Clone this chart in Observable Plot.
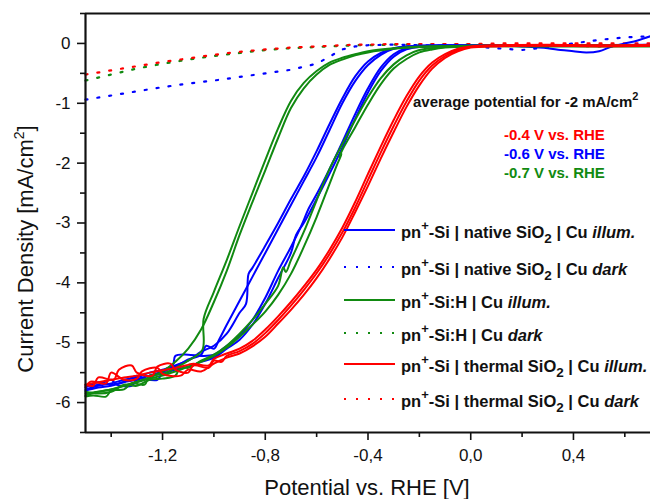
<!DOCTYPE html>
<html><head><meta charset="utf-8">
<script src="https://cdn.jsdelivr.net/npm/d3@7"></script>
<script src="https://cdn.jsdelivr.net/npm/@observablehq/plot@0.6"></script>
<style>
html,body{margin:0;padding:0;background:#fff;}
#chart{width:650px;height:499px;overflow:hidden;}
</style></head><body><div id="chart"></div>
<script>
// ---- tick values ----
const xTicks = [-1.2, -0.8, -0.4, 0.0, 0.4];
const xMinorTicks = [-1.4, -1.0, -0.6, -0.2, 0.2, 0.6];
const yTicks = [0, -1, -2, -3, -4, -5, -6];
const yMinorTicks = [0.5, -0.5, -1.5, -2.5, -3.5, -4.5, -5.5, -6.5];

// ---- dark (dotted) curves: potential [V] and current density [mA/cm2] ----
const vDark     = [-1.5,-1.4,-1.3,-1.2,-1.1,-1.0,-0.9,-0.8,-0.7,-0.6,-0.55,-0.5,-0.45,-0.4,-0.3,-0.2,-0.1,0.0,0.1,0.2,0.3,0.4,0.5,0.6,0.7];
const redDark   = [-0.52,-0.45,-0.38,-0.31,-0.25,-0.19,-0.14,-0.10,-0.07,-0.05,-0.04,-0.03,-0.02,-0.02,-0.01,-0.01,-0.01,-0.01,0,0,0,0,0,0,0];
const greenDark = [-0.62,-0.52,-0.42,-0.34,-0.27,-0.21,-0.16,-0.11,-0.08,-0.06,-0.05,-0.04,-0.03,-0.03,-0.02,-0.02,-0.02,-0.02,-0.03,-0.04,-0.04,-0.04,-0.05,-0.04,-0.03];
const blueDark  = [-0.94,-0.87,-0.80,-0.73,-0.67,-0.62,-0.56,-0.50,-0.44,-0.34,-0.22,-0.10,-0.05,-0.03,-0.02,-0.03,-0.04,-0.05,-0.08,-0.11,-0.06,0.00,0.06,0.10,0.12];

// ---- illuminated curves: [potential V, current density mA/cm2] ----
const blueIllumA1 = [[0.7,0.12],[0.65,0.05],[0.6,0.0],[0.55,-0.05],[0.5,-0.13],[0.45,-0.15],[0.4,-0.13],[0.35,-0.11],[0.3,-0.08],[0.2,-0.05],[0.1,-0.03],[0.0,-0.03],[-0.1,-0.03],[-0.2,-0.04],[-0.25,-0.05],[-0.3,-0.08],[-0.35,-0.16],[-0.4,-0.30],[-0.45,-0.55],[-0.5,-0.92],[-0.55,-1.35],[-0.6,-1.80],[-0.65,-2.22],[-0.7,-2.60],[-0.75,-3.00],[-0.8,-3.38],[-0.85,-3.75],[-0.865,-3.85],[-0.875,-4.35],[-0.9,-4.50],[-0.95,-4.85],[-1.0,-5.05],[-1.05,-5.15],[-1.1,-5.30],[-1.15,-5.38],[-1.2,-5.50],[-1.22,-5.62],[-1.27,-5.60],[-1.3,-5.55],[-1.35,-5.65],[-1.4,-5.70],[-1.45,-5.66],[-1.5,-5.75]];
const blueIllumA2 = [[0.7,-0.02],[0.4,-0.03],[0.2,-0.03],[0.0,-0.03],[-0.2,-0.04],[-0.3,-0.09],[-0.35,-0.19],[-0.4,-0.36],[-0.45,-0.63],[-0.5,-1.00],[-0.55,-1.45],[-0.6,-1.90],[-0.65,-2.30],[-0.7,-2.70],[-0.75,-3.10],[-0.8,-3.50],[-0.85,-3.90],[-0.9,-4.30],[-0.95,-4.70],[-0.98,-4.95],[-1.0,-5.10],[-1.03,-5.05],[-1.05,-5.20],[-1.1,-5.28],[-1.15,-5.40],[-1.2,-5.48],[-1.25,-5.55],[-1.3,-5.62],[-1.32,-5.72],[-1.38,-5.70],[-1.4,-5.62],[-1.45,-5.70],[-1.5,-5.72]];
const blueIllumB1 = [[0.7,-0.03],[0.4,-0.03],[0.2,-0.03],[0.0,-0.04],[-0.1,-0.04],[-0.2,-0.05],[-0.25,-0.08],[-0.3,-0.18],[-0.35,-0.40],[-0.4,-0.75],[-0.45,-1.18],[-0.5,-1.65],[-0.55,-2.10],[-0.6,-2.52],[-0.63,-2.75],[-0.66,-3.05],[-0.7,-3.40],[-0.75,-3.80],[-0.8,-4.25],[-0.85,-4.62],[-0.9,-4.88],[-0.95,-5.05],[-1.0,-5.20],[-1.05,-5.22],[-1.1,-5.20],[-1.15,-5.22],[-1.16,-5.38],[-1.2,-5.45],[-1.25,-5.50],[-1.3,-5.58],[-1.35,-5.62],[-1.4,-5.68],[-1.45,-5.72],[-1.5,-5.78]];
const blueIllumB2 = [[0.7,-0.04],[0.4,-0.04],[0.2,-0.04],[0.0,-0.04],[-0.2,-0.06],[-0.25,-0.10],[-0.3,-0.22],[-0.35,-0.46],[-0.4,-0.82],[-0.45,-1.26],[-0.5,-1.74],[-0.55,-2.18],[-0.6,-2.60],[-0.65,-3.00],[-0.68,-3.20],[-0.7,-3.50],[-0.75,-3.92],[-0.8,-4.35],[-0.85,-4.70],[-0.9,-4.95],[-0.95,-5.10],[-1.0,-5.25],[-1.05,-5.32],[-1.1,-5.40],[-1.15,-5.45],[-1.2,-5.52],[-1.25,-5.55],[-1.3,-5.62],[-1.35,-5.66],[-1.4,-5.72],[-1.45,-5.75],[-1.5,-5.80]];

const greenIllumA1 = [[0.7,-0.04],[0.4,-0.04],[0.2,-0.04],[0.0,-0.04],[-0.1,-0.05],[-0.2,-0.06],[-0.3,-0.09],[-0.4,-0.15],[-0.45,-0.20],[-0.5,-0.27],[-0.55,-0.36],[-0.6,-0.52],[-0.65,-0.75],[-0.7,-1.08],[-0.75,-1.58],[-0.8,-2.12],[-0.85,-2.65],[-0.9,-3.20],[-0.95,-3.80],[-1.0,-4.32],[-1.05,-4.78],[-1.1,-5.10],[-1.15,-5.32],[-1.2,-5.48],[-1.25,-5.58],[-1.3,-5.65],[-1.35,-5.72],[-1.4,-5.78],[-1.45,-5.82],[-1.5,-5.85]];
const greenIllumA2 = [[0.7,-0.03],[0.4,-0.03],[0.2,-0.03],[0.0,-0.04],[-0.2,-0.05],[-0.3,-0.08],[-0.4,-0.13],[-0.45,-0.18],[-0.5,-0.24],[-0.55,-0.32],[-0.6,-0.46],[-0.65,-0.66],[-0.7,-0.96],[-0.75,-1.42],[-0.8,-1.95],[-0.85,-2.50],[-0.9,-3.05],[-0.95,-3.62],[-1.0,-4.15],[-1.04,-4.60],[-1.045,-5.12],[-1.1,-5.30],[-1.15,-5.42],[-1.2,-5.52],[-1.25,-5.55],[-1.27,-5.70],[-1.32,-5.68],[-1.35,-5.78],[-1.4,-5.80],[-1.42,-5.90],[-1.47,-5.88],[-1.5,-5.90]];
const greenIllumB1 = [[0.7,-0.05],[0.4,-0.05],[0.2,-0.05],[0.0,-0.05],[-0.1,-0.07],[-0.15,-0.10],[-0.2,-0.15],[-0.25,-0.26],[-0.3,-0.42],[-0.35,-0.68],[-0.4,-1.02],[-0.45,-1.40],[-0.5,-1.78],[-0.512,-1.90],[-0.503,-1.85],[-0.52,-2.02],[-0.55,-2.35],[-0.6,-2.90],[-0.65,-3.40],[-0.7,-3.85],[-0.75,-4.20],[-0.8,-4.48],[-0.85,-4.70],[-0.9,-4.90],[-0.95,-5.08],[-1.0,-5.22],[-1.05,-5.32],[-1.1,-5.40],[-1.15,-5.48],[-1.2,-5.55],[-1.25,-5.60],[-1.3,-5.66],[-1.35,-5.72],[-1.4,-5.78],[-1.45,-5.82],[-1.5,-5.88]];
const greenIllumB2 = [[0.7,-0.04],[0.4,-0.04],[0.2,-0.04],[0.0,-0.05],[-0.1,-0.06],[-0.2,-0.11],[-0.25,-0.20],[-0.3,-0.35],[-0.35,-0.58],[-0.4,-0.90],[-0.45,-1.28],[-0.5,-1.68],[-0.55,-2.10],[-0.6,-2.62],[-0.65,-3.15],[-0.7,-3.62],[-0.72,-3.82],[-0.73,-3.74],[-0.75,-4.05],[-0.8,-4.35],[-0.85,-4.62],[-0.9,-4.85],[-0.95,-5.05],[-1.0,-5.20],[-1.05,-5.30],[-1.1,-5.42],[-1.13,-5.40],[-1.15,-5.55],[-1.2,-5.60],[-1.25,-5.62],[-1.3,-5.72],[-1.35,-5.70],[-1.4,-5.82],[-1.45,-5.85],[-1.5,-5.82]];

const redIllum1 = [[0.7,-0.02],[0.5,-0.03],[0.3,-0.02],[0.1,-0.03],[0.0,-0.05],[-0.05,-0.09],[-0.1,-0.18],[-0.15,-0.32],[-0.2,-0.55],[-0.25,-0.88],[-0.3,-1.28],[-0.35,-1.72],[-0.4,-2.18],[-0.45,-2.65],[-0.5,-3.08],[-0.55,-3.45],[-0.6,-3.78],[-0.65,-4.06],[-0.7,-4.32],[-0.75,-4.56],[-0.8,-4.78],[-0.85,-4.97],[-0.9,-5.10],[-0.95,-5.18],[-1.0,-5.27],[-1.02,-5.38],[-1.08,-5.35],[-1.1,-5.37],[-1.15,-5.42],[-1.2,-5.46],[-1.25,-5.50],[-1.3,-5.55],[-1.35,-5.58],[-1.4,-5.62],[-1.45,-5.66],[-1.5,-5.70]];
const redIllum2 = [[0.7,-0.03],[0.5,-0.04],[0.3,-0.03],[0.1,-0.04],[0.0,-0.06],[-0.05,-0.11],[-0.1,-0.21],[-0.15,-0.37],[-0.2,-0.62],[-0.25,-0.97],[-0.3,-1.38],[-0.35,-1.82],[-0.4,-2.28],[-0.45,-2.74],[-0.5,-3.16],[-0.55,-3.52],[-0.6,-3.84],[-0.65,-4.12],[-0.7,-4.38],[-0.75,-4.62],[-0.8,-4.84],[-0.85,-5.02],[-0.9,-5.14],[-0.95,-5.22],[-0.97,-5.32],[-1.0,-5.30],[-1.02,-5.42],[-1.08,-5.38],[-1.1,-5.50],[-1.15,-5.45],[-1.17,-5.35],[-1.22,-5.40],[-1.24,-5.55],[-1.3,-5.50],[-1.32,-5.38],[-1.37,-5.45],[-1.39,-5.62],[-1.45,-5.58],[-1.47,-5.72],[-1.5,-5.70]];
const redIllum3 = [[0.7,-0.04],[0.5,-0.05],[0.3,-0.04],[0.1,-0.05],[0.0,-0.07],[-0.05,-0.13],[-0.1,-0.24],[-0.15,-0.42],[-0.2,-0.70],[-0.25,-1.06],[-0.3,-1.48],[-0.35,-1.92],[-0.4,-2.38],[-0.45,-2.82],[-0.5,-3.24],[-0.55,-3.60],[-0.6,-3.92],[-0.65,-4.20],[-0.7,-4.45],[-0.75,-4.68],[-0.8,-4.90],[-0.85,-5.06],[-0.9,-5.18],[-0.95,-5.25],[-1.0,-5.35],[-1.05,-5.48],[-1.1,-5.45],[-1.13,-5.55],[-1.2,-5.52],[-1.22,-5.42],[-1.28,-5.48],[-1.3,-5.60],[-1.35,-5.62],[-1.4,-5.50],[-1.42,-5.68],[-1.48,-5.65],[-1.5,-5.74]];

// ---- text content ----
const avgTitle = "average potential for -2 mA/cm";
const avgValues = ["-0.4 V vs. RHE", "-0.6 V vs. RHE", "-0.7 V vs. RHE"];
const legendLabels = [
  ["pn", "-Si | native SiO", "2", " | Cu ", "illum."],
  ["pn", "-Si | native SiO", "2", " | Cu ", "dark"],
  ["pn", "-Si:H | Cu ", "", "", "illum."],
  ["pn", "-Si:H | Cu ", "", "", "dark"],
  ["pn", "-Si | thermal SiO", "2", " | Cu ", "illum."],
  ["pn", "-Si | thermal SiO", "2", " | Cu ", "dark"]
];

const BLUE = "#0000ff", GREEN = "#118a11", RED = "#ff0000";
const FONT = "'Liberation Sans', Arial, Helvetica, sans-serif";
const toPts = (vs, js) => vs.map((v, i) => [v, js[i]]);
const fmt = d => d3.format(".1f")(d).replace("−", "-").replace(".", ",");

const DOT = "2,10";
const lineOpts = (color, dark) => ({
  x: d => d[0], y: d => d[1], stroke: color,
  strokeWidth: dark ? 2.2 : 2, curve: dark ? "linear" : "catmull-rom",
  strokeDasharray: dark ? DOT : null, strokeLinejoin: "round"
});

const plot = Plot.plot({
  width: 650, height: 499,
  marginLeft: 85, marginTop: 13, marginRight: 0, marginBottom: 67,
  x: {domain: [-1.5, 0.7]},
  y: {domain: [-6.5, 0.5]},
  style: {fontFamily: FONT, fontSize: "17px", background: "#fff", color: "#111"},
  marks: [
    Plot.line(toPts(vDark, blueDark), lineOpts(BLUE, true)),
    Plot.line(toPts(vDark, greenDark), lineOpts(GREEN, true)),
    Plot.line(toPts(vDark, redDark), lineOpts(RED, true)),
    Plot.line(blueIllumA1, lineOpts(BLUE)),
    Plot.line(blueIllumA2, lineOpts(BLUE)),
    Plot.line(blueIllumB1, lineOpts(BLUE)),
    Plot.line(blueIllumB2, lineOpts(BLUE)),
    Plot.line(greenIllumA1, lineOpts(GREEN)),
    Plot.line(greenIllumA2, lineOpts(GREEN)),
    Plot.line(greenIllumB1, lineOpts(GREEN)),
    Plot.line(greenIllumB2, lineOpts(GREEN)),
    Plot.line(redIllum1, lineOpts(RED)),
    Plot.line(redIllum2, lineOpts(RED)),
    Plot.line(redIllum3, lineOpts(RED)),
    Plot.axisX({ticks: xTicks, tickSize: 8, tickPadding: 8, tickFormat: fmt, strokeWidth: 1.6, label: null}),
    Plot.axisX({ticks: xMinorTicks, tickSize: 5, tickFormat: () => "", strokeWidth: 1.6, label: null}),
    Plot.axisY({ticks: yTicks, tickSize: 8, tickPadding: 7, tickFormat: d => String(d).replace("−", "-"), strokeWidth: 1.6, label: null}),
    Plot.axisY({ticks: yMinorTicks, tickSize: 5, tickFormat: () => "", strokeWidth: 1.6, label: null}),
    Plot.ruleX([-1.5], {stroke: "#111", strokeWidth: 2.2}),
    Plot.ruleY([-6.5, 0.5], {stroke: "#111", strokeWidth: 2.2})
  ]
});
document.getElementById("chart").appendChild(plot);

// ---- annotations & legend (rich text) ----
const svg = d3.select(plot);
const g = svg.append("g").attr("font-family", FONT).attr("fill", "#111").attr("text-anchor", "start");

// axis titles
const yl = g.append("text").attr("transform", "translate(33,249) rotate(-90)")
  .attr("text-anchor", "middle").attr("font-size", 22);
yl.append("tspan").text("Current Density [mA/cm");
yl.append("tspan").attr("dy", -9).attr("font-size", 14).text("2");
yl.append("tspan").attr("dy", 9).text("]");
g.append("text").attr("x", 367).attr("y", 495).attr("text-anchor", "middle")
  .attr("font-size", 22).text("Potential vs. RHE [V]");

// average potential annotation
const at = g.append("text").attr("x", 413).attr("y", 107).attr("font-size", 15).attr("font-weight", "bold");
at.append("tspan").text(avgTitle);
at.append("tspan").attr("dy", -7).attr("font-size", 11).text("2");
const avgColors = [RED, BLUE, GREEN];
const avgY = [140, 159, 178];
avgValues.forEach((t, i) => {
  g.append("text").attr("x", 504).attr("y", avgY[i]).attr("font-size", 15)
    .attr("font-weight", "bold").attr("fill", avgColors[i]).text(t);
});

// legend
const legColors = [BLUE, BLUE, GREEN, GREEN, RED, RED];
const legDark = [false, true, false, true, false, true];
const legY = [230, 267, 300, 333, 364, 399];
legendLabels.forEach((parts, i) => {
  g.append("line").attr("x1", 344).attr("x2", 395).attr("y1", legY[i]).attr("y2", legY[i])
    .attr("stroke", legColors[i]).attr("stroke-width", 2)
    .attr("stroke-dasharray", legDark[i] ? DOT : null);
  const t = g.append("text").attr("x", 401).attr("y", legY[i] + 8)
    .attr("font-size", 16.5).attr("font-weight", "bold");
  t.append("tspan").text(parts[0]);
  t.append("tspan").attr("dy", -8).attr("font-size", 13).text("+");
  t.append("tspan").attr("dy", 8).text(parts[1]);
  if (parts[2]) {
    t.append("tspan").attr("dy", 5).attr("font-size", 13.5).text(parts[2]);
    t.append("tspan").attr("dy", -5).text(parts[3]);
  }
  t.append("tspan").attr("font-style", "italic").text(parts[4]);
});
</script>
</body></html>
